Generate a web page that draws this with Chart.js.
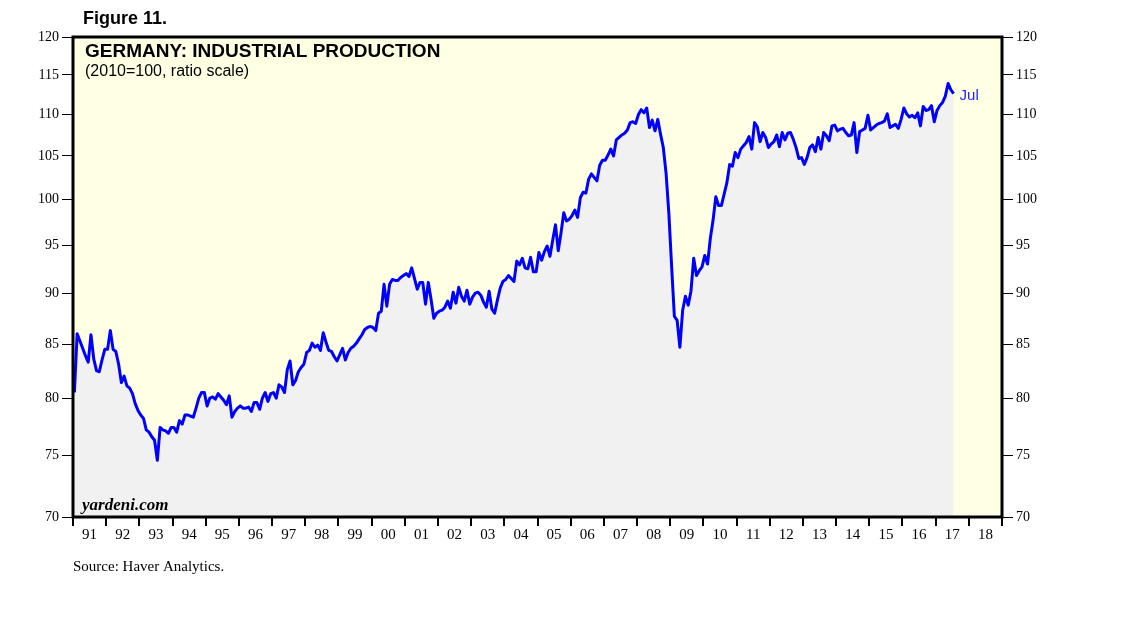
<!DOCTYPE html>
<html>
<head>
<meta charset="utf-8">
<script src="https://cdn.jsdelivr.net/npm/chart.js@4.4.0/dist/chart.umd.min.js"></script>
<style>
  html, body { margin: 0; padding: 0; background: #ffffff; }
  #wrap { width: 1138px; height: 621px; }
</style>
</head>
<body>
<div id="wrap"><canvas id="ipChart" width="1138" height="621"></canvas></div>
<script>
// Germany industrial production, monthly, 2010=100
const ip1991 = [80.5, 86.0, 85.3, 84.6, 83.9, 83.3, 85.9, 83.6, 82.5, 82.4, 83.5, 84.5];
const ip1992 = [84.5, 86.3, 84.5, 84.3, 83.1, 81.4, 82.0, 81.1, 80.9, 80.4, 79.5, 78.9];
const ip1993 = [78.5, 78.2, 77.2, 77.0, 76.6, 76.3, 74.6, 77.4, 77.2, 77.1, 76.9, 77.4];
const ip1994 = [77.4, 77.0, 78.0, 77.7, 78.5, 78.5, 78.4, 78.3, 79.1, 80.0, 80.5, 80.5];
const ip1995 = [79.3, 80.0, 80.1, 79.9, 80.4, 80.1, 79.8, 79.4, 80.2, 78.3, 78.8, 79.1];
const ip1996 = [79.3, 79.1, 79.1, 79.2, 78.8, 79.6, 79.6, 79.0, 80.0, 80.5, 79.7, 80.4];
const ip1997 = [80.5, 80.0, 81.2, 81.0, 80.5, 82.6, 83.4, 81.2, 81.6, 82.4, 82.8, 83.1];
const ip1998 = [84.2, 84.4, 85.1, 84.7, 84.9, 84.4, 86.1, 85.2, 84.4, 84.3, 83.8, 83.4];
const ip1999 = [84.0, 84.6, 83.5, 84.2, 84.6, 84.8, 85.1, 85.5, 85.9, 86.4, 86.6, 86.7];
const ip2000 = [86.6, 86.3, 88.0, 88.2, 90.9, 88.7, 90.9, 91.4, 91.3, 91.3, 91.6, 91.8];
const ip2001 = [92.0, 91.7, 92.6, 91.5, 90.4, 91.1, 91.1, 88.9, 91.1, 89.4, 87.5, 88.0];
const ip2002 = [88.2, 88.3, 88.6, 89.2, 88.5, 90.1, 89.0, 90.6, 89.7, 89.2, 90.3, 88.9];
const ip2003 = [89.6, 90.0, 90.1, 89.8, 89.1, 88.6, 90.2, 88.4, 88.0, 89.3, 90.5, 91.2];
const ip2004 = [91.4, 91.8, 91.5, 91.2, 93.3, 92.9, 93.6, 92.6, 92.5, 93.7, 92.2, 92.2];
const ip2005 = [94.2, 93.4, 94.3, 94.9, 93.8, 95.5, 97.2, 94.4, 96.3, 98.5, 97.6, 97.8];
const ip2006 = [98.2, 98.8, 98.0, 100.2, 100.8, 100.7, 102.3, 102.9, 102.5, 102.1, 103.9, 104.5];
const ip2007 = [104.5, 105.1, 105.8, 105.0, 106.9, 107.2, 107.5, 107.7, 108.1, 109.0, 109.1, 108.9];
const ip2008 = [110.0, 110.6, 110.2, 110.8, 108.4, 109.3, 108.0, 109.4, 107.6, 106.0, 103.0, 98.5];
const ip2009 = [92.8, 87.7, 87.3, 84.7, 88.3, 89.7, 88.8, 90.2, 93.6, 91.8, 92.3, 92.7];
const ip2010 = [93.9, 93.0, 95.7, 97.7, 100.3, 99.3, 99.3, 100.6, 101.9, 104.0, 103.8, 105.4];
const ip2011 = [104.8, 105.8, 106.2, 106.6, 107.3, 105.8, 109.0, 108.5, 106.7, 107.8, 107.2, 106.0];
const ip2012 = [106.4, 106.7, 107.5, 106.1, 107.8, 106.9, 107.7, 107.8, 107.0, 106.0, 104.7, 104.8];
const ip2013 = [104.0, 104.8, 106.0, 106.3, 105.5, 107.2, 105.8, 107.8, 107.4, 106.8, 108.6, 108.7];
const ip2014 = [108.0, 108.2, 108.3, 107.8, 107.4, 107.5, 109.0, 105.4, 107.9, 108.1, 108.3, 109.9];
const ip2015 = [108.1, 108.4, 108.7, 108.9, 109.0, 109.2, 110.1, 108.4, 108.6, 108.8, 108.3, 109.4];
const ip2016 = [110.8, 110.1, 109.7, 109.9, 109.6, 110.2, 108.6, 111.0, 110.5, 110.6, 111.1, 109.1];
const ip2017 = [110.5, 111.1, 111.5, 112.3, 113.9, 113.1, 112.6];

const yearRows = [ip1991, ip1992, ip1993, ip1994, ip1995, ip1996, ip1997, ip1998, ip1999,
    ip2000, ip2001, ip2002, ip2003, ip2004, ip2005, ip2006, ip2007, ip2008, ip2009,
    ip2010, ip2011, ip2012, ip2013, ip2014, ip2015, ip2016, ip2017];

const yTicks = [70, 75, 80, 85, 90, 95, 100, 105, 110, 115, 120];
const yearLabels = ['91', '92', '93', '94', '95', '96', '97', '98', '99', '00', '01', '02', '03', '04',
    '05', '06', '07', '08', '09', '10', '11', '12', '13', '14', '15', '16', '17', '18'];
const lastLabel = 'Jul';

const firstYear = 1991;
const puntos = [];
yearRows.forEach(function (fila, i) {
    fila.forEach(function (v, m) {
        puntos.push({ x: firstYear + i + (m + 0.5) / 12, y: v });
    });
});

const serif = "'Liberation Serif', 'DejaVu Serif', serif";
const sans = "'Liberation Sans', Arial, sans-serif";

function setYTicks(scale) {
    scale.ticks = yTicks.map(function (v) { return { value: v }; });
}

const yAxisBase = {
    type: 'logarithmic',
    min: 70,
    max: 120,
    afterBuildTicks: setYTicks,
    grid: { drawOnChartArea: false, drawTicks: true, tickLength: 11, color: '#000000', lineWidth: 1 },
    border: { display: false },
    ticks: {
        padding: 3,
        color: '#000000',
        font: { family: serif, size: 14 },
        callback: function (v) { return String(v); }
    }
};

// fondo amarillo + marco + textos
const decoraciones = {
    id: 'decoraciones',
    beforeDraw: function (chart) {
        const a = chart.chartArea;
        const ctx = chart.ctx;
        ctx.save();
        ctx.fillStyle = '#ffffe4';
        ctx.fillRect(a.left, a.top, a.right - a.left, a.bottom - a.top);
        ctx.restore();
    },
    afterDatasetsDraw: function (chart) {
        const a = chart.chartArea;
        const ctx = chart.ctx;
        ctx.save();
        ctx.strokeStyle = '#000000';
        ctx.lineWidth = 3;
        ctx.strokeRect(a.left, a.top, a.right - a.left, a.bottom - a.top);

        ctx.fillStyle = '#000000';
        ctx.textBaseline = 'alphabetic';
        ctx.textAlign = 'left';
        ctx.font = 'bold 18px ' + sans;
        ctx.fillText('Figure 11.', 83, 24);
        ctx.font = 'bold 19px ' + sans;
        ctx.fillText('GERMANY: INDUSTRIAL PRODUCTION', 85, 57);
        ctx.font = '16px ' + sans;
        ctx.fillText('(2010=100, ratio scale)', 85, 76);
        ctx.font = 'italic bold 17px ' + serif;
        ctx.fillText('yardeni.com', 82, 510);
        ctx.font = '15px ' + serif;
        ctx.fillText('Source: Haver Analytics.', 73, 571);

        const last = puntos[puntos.length - 1];
        const px = chart.scales.x.getPixelForValue(last.x);
        const py = chart.scales.y.getPixelForValue(last.y);
        ctx.fillStyle = '#2222ff';
        ctx.font = '15px ' + sans;
        ctx.fillText(lastLabel, px + 6, py + 6);
        ctx.restore();
    }
};

const ctx = document.getElementById('ipChart').getContext('2d');

const ipChart = new Chart(ctx, {
    type: 'line',
    data: {
        datasets: [{
            label: 'Industrial Production',
            data: puntos,
            borderColor: '#0000ff',
            borderWidth: 3,
            borderJoinStyle: 'round',
            backgroundColor: '#f1f1f1',
            fill: 'start',
            pointRadius: 0,
            tension: 0
        }]
    },
    options: {
        responsive: false,
        animation: false,
        devicePixelRatio: 1,
        layout: { padding: { top: 37, left: 0, right: 0, bottom: 0 } },
        plugins: {
            legend: { display: false },
            tooltip: { enabled: false }
        },
        scales: {
            x: {
                type: 'linear',
                position: 'bottom',
                min: 1991,
                max: 2019,
                afterBuildTicks: function (scale) {
                    const t = [];
                    for (let v = 1991; v <= 2019; v += 0.5) t.push({ value: v });
                    scale.ticks = t;
                },
                afterFit: function (scale) { scale.height = 621 - 517; },
                grid: {
                    drawOnChartArea: false,
                    drawTicks: true,
                    tickLength: 9,
                    lineWidth: 2,
                    color: function (c) {
                        return (c.tick && Number.isInteger(c.tick.value)) ? '#000000' : 'rgba(0,0,0,0)';
                    }
                },
                border: { display: false },
                ticks: {
                    autoSkip: false,
                    maxRotation: 0,
                    padding: 0,
                    color: '#000000',
                    font: { family: serif, size: 15 },
                    callback: function (v) {
                        return (v % 1 === 0.5) ? yearLabels[Math.floor(v) - firstYear] : '';
                    }
                }
            },
            y: Object.assign({}, yAxisBase, {
                position: 'left',
                afterFit: function (scale) { scale.width = 73; }
            }),
            y2: Object.assign({}, yAxisBase, {
                position: 'right',
                afterFit: function (scale) { scale.width = 1138 - 1002; }
            })
        }
    },
    plugins: [decoraciones]
});
</script>
</body>
</html>
